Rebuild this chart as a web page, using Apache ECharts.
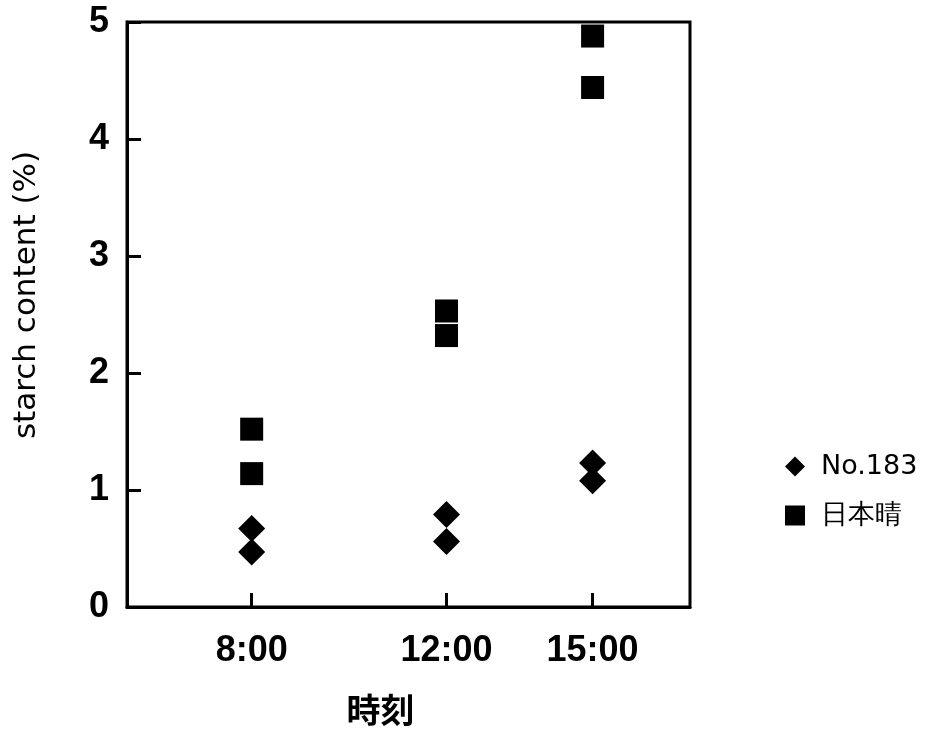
<!DOCTYPE html>
<html>
<head>
<meta charset="utf-8">
<script src="https://cdn.jsdelivr.net/npm/echarts@6/dist/echarts.min.js"></script>
<style>
  html, body { margin: 0; padding: 0; background: #fff; }
  #chart { width: 931px; height: 735px; }
</style>
</head>
<body>
<div id="chart"></div>
<script>
// sampling times (hours) and their labels
var tickHours = [8, 12, 15];
var tickLabels = ['8:00', '12:00', '15:00'];

// No.183 : two replicates per time
var no183Hours = [8, 8, 12, 12, 15, 15];
var no183Values = [0.67, 0.47, 0.79, 0.56, 1.23, 1.08];

// 日本晴 : two replicates per time
var nipponbareHours = [8, 8, 12, 12, 15, 15];
var nipponbareValues = [1.52, 1.14, 2.53, 2.32, 4.88, 4.44];

var yTicks = [0, 1, 2, 3, 4, 5];

function pairs(xs, ys) {
  return xs.map(function (x, i) { return [x, ys[i]]; });
}

var chart = echarts.init(document.getElementById('chart'));
chart.setOption({
  animation: false,
  backgroundColor: '#fff',
  grid: {
    left: 127, right: 241, top: 22, bottom: 128,
    show: true, borderColor: '#000', borderWidth: 3
  },
  legend: {
    orient: 'vertical',
    left: 780, top: 448,
    itemWidth: 20, itemHeight: 20,
    itemGap: 22,
    textStyle: { fontFamily: 'DejaVu Sans', fontSize: 27, color: '#000', padding: [0, 0, 0, 11] },
    data: ['No.183', '日本晴']
  },
  xAxis: {
    type: 'value',
    min: 5.44, max: 17,
    name: '時刻',
    nameLocation: 'middle',
    nameGap: 86,
    nameTextStyle: { fontFamily: 'Noto Sans CJK JP', fontSize: 34, fontWeight: 'bold', color: '#000', padding: [0, 56, 0, 0] },
    axisLine: { lineStyle: { color: '#000', width: 3 } },
    axisTick: { inside: true, length: 14, lineStyle: { color: '#000', width: 3 }, customValues: tickHours },
    axisLabel: {
      customValues: tickHours,
      margin: 26,
      fontFamily: 'Liberation Sans', fontWeight: 'bold', fontSize: 36, color: '#000',
      formatter: function (v) { return tickLabels[tickHours.indexOf(v)]; }
    },
    splitLine: { show: false }
  },
  yAxis: {
    type: 'value',
    min: yTicks[0], max: yTicks[yTicks.length - 1], interval: 1,
    axisLine: { show: true, lineStyle: { color: '#000', width: 3 } },
    axisTick: { show: true, inside: true, length: 14, lineStyle: { color: '#000', width: 3 } },
    axisLabel: { margin: 18, fontFamily: 'Liberation Sans', fontWeight: 'bold', fontSize: 36, color: '#000' },
    splitLine: { show: false }
  },
  graphic: [{
    type: 'text',
    x: 27, y: 295,
    rotation: Math.PI / 2,
    style: {
      text: 'starch content (%)',
      fontFamily: 'DejaVu Sans', fontSize: 31, fill: '#000',
      align: 'center', verticalAlign: 'middle'
    }
  }],
  series: [
    {
      name: 'No.183',
      type: 'scatter',
      symbol: 'diamond',
      symbolSize: [27, 27],
      itemStyle: { color: '#000', opacity: 1 },
      data: pairs(no183Hours, no183Values)
    },
    {
      name: '日本晴',
      type: 'scatter',
      symbol: 'rect',
      symbolSize: 23,
      itemStyle: { color: '#000', opacity: 1 },
      data: pairs(nipponbareHours, nipponbareValues)
    }
  ]
});
</script>
</body>
</html>
